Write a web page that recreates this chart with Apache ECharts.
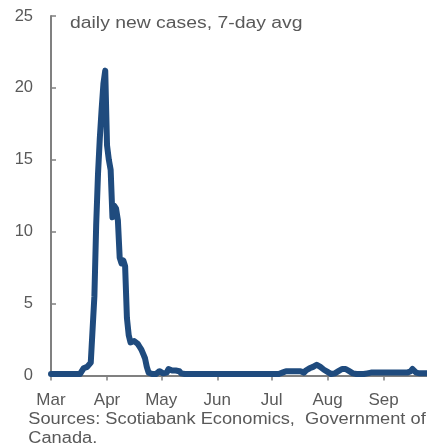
<!DOCTYPE html>
<html>
<head>
<meta charset="utf-8">
<script src="https://cdn.jsdelivr.net/npm/echarts@6/dist/echarts.min.js"></script>
<style>
  html, body { margin: 0; padding: 0; background: #fff; }
  #chart { width: 427px; height: 448px; }
</style>
</head>
<body>
<div id="chart"></div>
<script>
// Daily new cases, 7-day average, one value per day starting Mar 1
const startDate = '2020-03-01';
const cases = [
  0.1, 0.1, 0.1, 0.1, 0.1, 0.1, 0.1, 0.1, 0.1, 0.1,      // Mar 1-10
  0.1, 0.1, 0.1, 0.1, 0.1, 0.1, 0.1, 0.2, 0.5, 0.6,      // Mar 11-20
  0.6, 0.7, 0.9, 1.0, 5.5, 10.5, 14.0, 16.5, 18.5, 20.3, // Mar 21-30
  21.2,                                                  // Mar 31
  16.0, 15.0, 14.3, 11.0, 11.8, 11.6, 10.8, 8.2, 7.8, 8.0, // Apr 1-10
  7.6, 4.0, 2.8, 2.3, 2.2, 2.4, 2.4, 2.2, 2.0, 1.8,      // Apr 11-20
  1.5, 1.2, 0.6, 0.2, 0.1, 0.1, 0.1, 0.1, 0.1, 0.3,      // Apr 21-30
  0.35, 0.15, 0.1, 0.2, 0.45, 0.35, 0.35, 0.35, 0.35, 0.35, // May 1-10
  0.3, 0.15, 0.1, 0.1, 0.1, 0.1, 0.1, 0.1, 0.1, 0.1,     // May 11-20
  0.1, 0.1, 0.1, 0.1, 0.1, 0.1, 0.1, 0.1, 0.1, 0.1,      // May 21-30
  0.1,                                                   // May 31
  0.1, 0.1, 0.1, 0.1, 0.1, 0.1, 0.1, 0.1, 0.1, 0.1,      // Jun 1-10
  0.1, 0.1, 0.1, 0.1, 0.1, 0.1, 0.1, 0.1, 0.1, 0.1,      // Jun 11-20
  0.1, 0.1, 0.1, 0.1, 0.1, 0.1, 0.1, 0.1, 0.1, 0.1,      // Jun 21-30
  0.1, 0.1, 0.1, 0.1, 0.1, 0.1, 0.2, 0.3, 0.3, 0.3,      // Jul 1-10
  0.3, 0.3, 0.3, 0.3, 0.3, 0.3, 0.3, 0.2, 0.2, 0.35,     // Jul 11-20
  0.45, 0.5, 0.55, 0.6, 0.7, 0.75, 0.7, 0.6, 0.5, 0.4,   // Jul 21-30
  0.35,                                                  // Jul 31
  0.25, 0.15, 0.1, 0.1, 0.15, 0.2, 0.3, 0.4, 0.45, 0.45, // Aug 1-10
  0.45, 0.4, 0.3, 0.2, 0.15, 0.1, 0.1, 0.1, 0.1, 0.1,    // Aug 11-20
  0.1, 0.1, 0.15, 0.2, 0.2, 0.2, 0.2, 0.2, 0.2, 0.2,     // Aug 21-30
  0.2,                                                   // Aug 31
  0.2, 0.2, 0.2, 0.2, 0.2, 0.2, 0.2, 0.2, 0.2, 0.2,      // Sep 1-10
  0.2, 0.2, 0.2, 0.2, 0.2, 0.3, 0.45, 0.35, 0.2, 0.15,   // Sep 11-20
  0.15, 0.15, 0.15, 0.15, 0.15                           // Sep 21-25
];
const monthLabels = ['Jan', 'Feb', 'Mar', 'Apr', 'May', 'Jun', 'Jul', 'Aug', 'Sep', 'Oct', 'Nov', 'Dec'];
const yTicks = { min: 0, max: 25, interval: 5 };
const titleText = 'daily new cases, 7-day avg';
const sourceLines = ['Sources: Scotiabank Economics,  Government of', 'Canada.'];

// one category per day
const days = [];
const d0 = new Date(startDate + 'T00:00:00Z');
for (let i = 0; i < cases.length; i++) {
  const d = new Date(d0.getTime() + i * 86400000);
  days.push(d.toISOString().slice(0, 10));
}
const isMonthStart = (idx, val) => val.slice(8, 10) === '01';

const textColor = '#595959';
const axisColor = '#808080';
const font = 'Liberation Sans, Arial, sans-serif';

// left-anchored text, widened a little to the face used in the footer and title
function note(text, x, y, sx) {
  return {
    type: 'text', x: x, y: y, scaleX: sx, scaleY: 1,
    style: {
      text: text, x: 0, y: 0, fill: textColor, fontSize: 16, fontFamily: font,
      align: 'left', verticalAlign: 'middle'
    }
  };
}

const chart = echarts.init(document.getElementById('chart'), null, { renderer: 'canvas' });
chart.setOption({
  animation: false,
  backgroundColor: '#ffffff',
  grid: { left: 51, right: 0, top: 16, bottom: 72.5, containLabel: false },
  xAxis: {
    type: 'category',
    data: days,
    boundaryGap: false,
    axisLine: { show: true, lineStyle: { color: axisColor, width: 2 } },
    axisTick: { show: true, length: 5, interval: isMonthStart, lineStyle: { color: axisColor, width: 1.5 } },
    axisLabel: {
      interval: isMonthStart,
      formatter: v => monthLabels[parseInt(v.slice(5, 7), 10) - 1],
      color: textColor, fontSize: 17, fontFamily: font, margin: 16.5
    },
    splitLine: { show: false }
  },
  yAxis: {
    type: 'value',
    min: yTicks.min, max: yTicks.max, interval: yTicks.interval,
    axisLine: { show: true, lineStyle: { color: axisColor, width: 2 } },
    axisTick: { show: true, inside: true, length: 5, lineStyle: { color: axisColor, width: 1.5 } },
    axisLabel: { color: textColor, fontSize: 16.5, fontFamily: font, margin: 18, padding: [4, 0, 0, 0] },
    splitLine: { show: false }
  },
  series: [{
    type: 'line',
    data: cases,
    showSymbol: false,
    smooth: false,
    lineStyle: { color: '#1F4B7E', width: 6, cap: 'round', join: 'round' },
    z: 3
  }],
  graphic: [
    note(titleText, 70, 23.2, 1.21),
    note(sourceLines[0], 28.3, 419.3, 1.14),
    note(sourceLines[1], 28.3, 439, 1.14)
  ]
});
</script>
</body>
</html>
